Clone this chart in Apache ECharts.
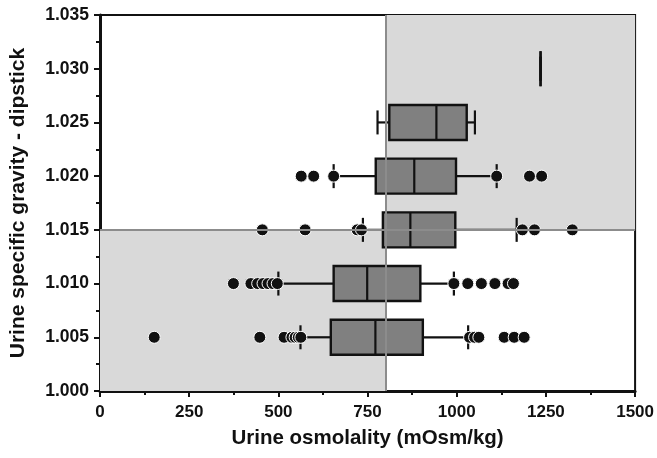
<!DOCTYPE html>
<html>
<head>
<meta charset="utf-8">
<script src="https://cdn.jsdelivr.net/npm/echarts@6/dist/echarts.min.js"></script>
<style>html,body{margin:0;padding:0;background:#fff}#c{width:657px;height:458px}</style>
</head>
<body>
<div id="c"></div>
<script>
// Specific gravity rows (y positions)
const gravity = [1.005, 1.010, 1.015, 1.020, 1.025, 1.030];
// Box statistics (mOsm/kg)
const whiskerLow  = [562, 500, 737, 655, 778, 1235];
const q1          = [647, 655, 793, 773, 811, 1235];
const median      = [772, 749, 870, 881, 943, 1235];
const q3          = [905, 898, 996, 998, 1028, 1235];
const whiskerHigh = [1032, 992, 1168, 1112, 1051, 1235];
// Outlying / percentile points per row
const pts1005 = [152, 448, 516, 538, 547, 556, 563, 1036, 1050, 1062, 1133, 1161, 1189];
const pts1010 = [374, 423, 442, 457, 471, 485, 497, 992, 1031, 1069, 1107, 1144, 1159];
const pts1015 = [455, 575, 721, 733, 1184, 1218, 1324];
const pts1020 = [564, 599, 655, 1112, 1204, 1238];
const pts1025 = [];
const pts1030 = [];
// Axis ticks
const xTicks = [0, 250, 500, 750, 1000, 1250, 1500];
const yTicks = [1.000, 1.005, 1.010, 1.015, 1.020, 1.025, 1.030, 1.035];
const xCut = 800, yCut = 1.015;

const pointRows = [pts1005, pts1010, pts1015, pts1020, pts1025, pts1030];
const scatterData = [];
pointRows.forEach((row, i) => row.forEach(v => scatterData.push([v, gravity[i]])));
const boxData = gravity.map((g, i) => [g, whiskerLow[i], q1[i], median[i], q3[i], whiskerHigh[i]]);
const xMin = xTicks[0], xMax = xTicks[xTicks.length - 1];
const yMin = yTicks[0], yMax = yTicks[yTicks.length - 1];

const font = 'Liberation Sans, Arial, sans-serif';
const chart = echarts.init(document.getElementById('c'));
chart.setOption({
  animation: false,
  grid: { left: 97, right: 20, top: 15, bottom: 67, show: true, borderColor: '#111', borderWidth: 2, backgroundColor: 'transparent' },
  xAxis: {
    type: 'value', min: xMin, max: xMax, interval: 250,
    name: 'Urine osmolality (mOsm/kg)', nameLocation: 'middle', nameGap: 37,
    nameTextStyle: { fontFamily: font, fontWeight: 'bold', fontSize: 20.5, color: '#111' },
    axisLine: { lineStyle: { color: '#111', width: 3 } },
    axisTick: { length: 6, lineStyle: { color: '#111', width: 2 } },
    minorTick: { show: true, splitNumber: 2, length: 4, lineStyle: { color: '#111', width: 2 } },
    splitLine: { show: false },
    axisLabel: { fontFamily: font, fontWeight: 'bold', fontSize: 17, color: '#111', margin: 13,
      formatter: v => String(v) }
  },
  yAxis: {
    type: 'value', min: yMin, max: yMax, interval: 0.005,
    name: 'Urine specific gravity - dipstick', nameLocation: 'middle', nameGap: 71,
    nameTextStyle: { fontFamily: font, fontWeight: 'bold', fontSize: 21, color: '#111' },
    axisLine: { lineStyle: { color: '#111', width: 3 } },
    axisTick: { length: 6, lineStyle: { color: '#111', width: 2 } },
    minorTick: { show: true, splitNumber: 2, length: 4, lineStyle: { color: '#111', width: 2 } },
    splitLine: { show: false },
    axisLabel: { fontFamily: font, fontWeight: 'bold', fontSize: 17.5, color: '#111', margin: 11,
      formatter: v => v.toFixed(3) }
  },
  series: [
    {
      type: 'line', data: [], z: 1, silent: true,
      markArea: { silent: true, itemStyle: { color: '#d9d9d9' },
        data: [
          [{ coord: [xMin, yMin] }, { coord: [xCut, yCut] }],
          [{ coord: [xCut, yCut] }, { coord: [xMax, yMax] }]
        ] },
      markLine: { silent: true, symbol: 'none', label: { show: false },
        lineStyle: { color: '#8c8c8c', width: 2, type: 'solid' },
        data: [
          [{ coord: [xCut, yMin] }, { coord: [xCut, yMax] }],
          [{ coord: [xMin, yCut] }, { coord: [xMax, yCut] }]
        ] }
    },
    {
      type: 'custom', z: 3, data: boxData, clip: false,
      renderItem: function (params, api) {
        const y = api.value(0);
        const p = k => api.coord([api.value(k), y]);
        const lo = p(1), a = p(2), m = p(3), b = p(4), hi = p(5);
        const h = 17.5, ch = 12;
        const st = { stroke: '#111', lineWidth: 2.2, fill: null };
        return { type: 'group', children: [
          { type: 'line', shape: { x1: lo[0], y1: lo[1], x2: a[0], y2: a[1] }, style: st },
          { type: 'line', shape: { x1: b[0], y1: b[1], x2: hi[0], y2: hi[1] }, style: st },
          { type: 'line', shape: { x1: lo[0], y1: lo[1] - ch, x2: lo[0], y2: lo[1] + ch }, style: st },
          { type: 'line', shape: { x1: hi[0], y1: hi[1] - ch, x2: hi[0], y2: hi[1] + ch }, style: st },
          { type: 'rect', shape: { x: a[0], y: a[1] - h, width: b[0] - a[0], height: 2 * h },
            style: { fill: '#808080', stroke: '#111', lineWidth: 2.4 } },
          { type: 'line', shape: { x1: m[0], y1: m[1] - h, x2: m[0], y2: m[1] + h }, style: st }
        ] };
      }
    },
    {
      type: 'scatter', z: 4, data: scatterData, symbolSize: 12,
      itemStyle: { color: '#111', opacity: 1, borderColor: '#fff', borderWidth: 1 }
    }
  ]
});
</script>
</body>
</html>
